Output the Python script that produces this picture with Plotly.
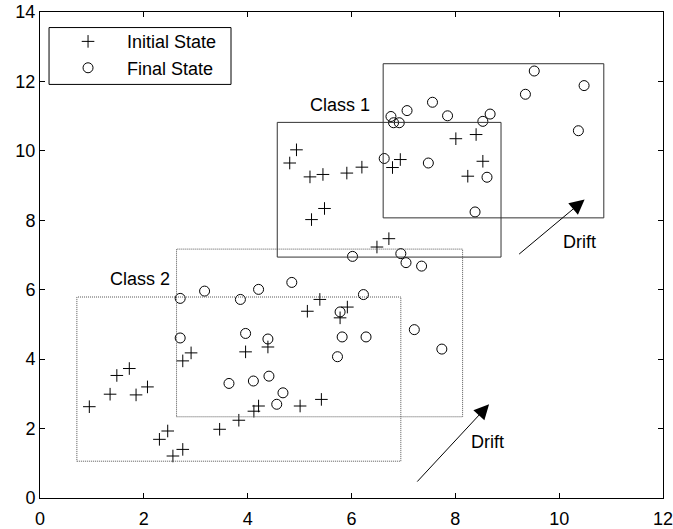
import plotly.graph_objects as go

# Initial State (+)
init_x = [0.95, 1.35, 1.48, 1.72, 1.85, 2.07, 2.30, 2.46, 2.56, 2.75, 2.75, 2.91,
          3.46, 3.83, 3.96, 4.12, 4.21, 4.39, 5.01, 5.42, 5.15, 5.39, 5.78, 5.92,
          4.81, 4.94, 5.20, 5.45, 5.91, 6.20, 5.23, 5.48, 6.49, 6.72, 6.79, 6.94,
          8.01, 8.40, 8.53, 8.24]
init_y = [2.63, 2.99, 3.53, 3.73, 2.97, 3.20, 1.69, 1.93, 1.21, 1.40, 3.95, 4.18,
          1.98, 2.24, 4.21, 2.50, 2.65, 4.35, 2.65, 2.84, 5.38, 5.72, 5.19, 5.50,
          9.65, 10.03, 9.25, 9.32, 9.36, 9.53, 8.02, 8.34, 7.23, 7.47, 9.52, 9.75,
          10.35, 10.47, 9.70, 9.27]

# Final State (o)
final_x = [2.70, 3.17, 3.86, 4.21, 4.85, 2.70, 3.96, 4.39, 3.64, 4.11, 4.41, 4.68,
           4.56, 5.78, 5.82, 5.73, 6.02, 6.23, 6.28, 7.21, 7.74, 6.95, 7.05, 7.35,
           9.52, 10.48, 9.35, 10.37, 7.56, 7.07, 6.76, 6.81, 6.92, 7.85, 8.67, 8.53,
           6.63, 7.48, 8.61, 8.38]
final_y = [5.75, 5.96, 5.72, 6.01, 6.21, 4.61, 4.74, 4.58, 3.30, 3.37, 3.51, 3.03,
           2.70, 5.36, 4.64, 4.07, 6.96, 5.86, 4.64, 4.85, 4.29, 7.04, 6.78, 6.68,
           12.30, 11.88, 11.63, 10.58, 11.40, 11.16, 10.99, 10.81, 10.81, 11.01, 11.06, 10.85,
           9.78, 9.65, 9.24, 8.24]

# Class regions: (x0, x1, y0, y1)
class2_initial_box = [0.71, 6.95, 1.06, 5.79]
class2_final_box = [2.63, 8.14, 2.34, 7.17]
class1_initial_box = [4.57, 8.88, 6.94, 10.82]
class1_final_box = [6.61, 10.86, 8.07, 12.51]

# Drift arrows: (tail_x, tail_y, head_x, head_y)
drift_upper = [9.20, 6.99, 10.49, 8.60]
drift_lower = [7.24, 0.43, 8.65, 2.70]

labels = [("Class 1", 5.77, 11.31), ("Class 2", 1.93, 6.32),
          ("Drift", 10.40, 7.38), ("Drift", 8.62, 1.62)]

x_ticks = [0, 2, 4, 6, 8, 10, 12]
y_ticks = [0, 2, 4, 6, 8, 10, 12, 14]

FONT = "Liberation Sans, Arial, sans-serif"
FS = 18

fig = go.Figure()
fig.add_trace(go.Scatter(
    x=init_x, y=init_y, mode="markers", name="Initial State",
    marker=dict(symbol="cross-thin-open", size=9, color="black",
                line=dict(color="black", width=1))))
fig.add_trace(go.Scatter(
    x=final_x, y=final_y, mode="markers", name="Final State",
    marker=dict(symbol="circle-open", size=10, color="black",
                line=dict(color="black", width=1))))

for box, style in [(class2_initial_box, "dot"), (class2_final_box, "dot"),
                   (class1_initial_box, "solid"), (class1_final_box, "solid")]:
    fig.add_shape(type="rect", xref="x", yref="y",
                  x0=box[0], x1=box[1], y0=box[2], y1=box[3],
                  line=dict(color="#555555" if style == "dot" else "#333333",
                            width=1, dash="1px,1px" if style == "dot" else "solid"))

# legend frame
fig.add_shape(type="rect", xref="paper", yref="paper",
              x0=0.0145, x1=0.3066, y0=0.851, y1=0.968,
              line=dict(color="black", width=1), fillcolor="white", layer="below")

for a in (drift_upper, drift_lower):
    fig.add_annotation(x=a[2], y=a[3], ax=a[0], ay=a[1], xref="x", yref="y",
                       axref="x", ayref="y", text="", showarrow=True,
                       arrowhead=2, arrowsize=3, arrowwidth=1, arrowcolor="black",
                       standoff=0)

for t, x, y in labels:
    fig.add_annotation(x=x, y=y, xref="x", yref="y", text=t, showarrow=False,
                       font=dict(family=FONT, size=FS, color="black"))

axis_common = dict(showline=True, linecolor="black", linewidth=1, mirror="ticks",
                   ticks="inside", ticklen=5, tickcolor="black", showgrid=False,
                   zeroline=False, automargin=False, ticklabeloverflow="allow",
                   tickfont=dict(family=FONT, size=FS, color="black"))
fig.update_xaxes(range=[0, 12], tickvals=x_ticks, ticklabelstandoff=4, **axis_common)
fig.update_yaxes(range=[0, 14], tickvals=y_ticks, **axis_common)

fig.update_layout(
    width=673, height=529,
    margin=dict(l=40, r=10, t=12, b=31),
    plot_bgcolor="white", paper_bgcolor="white",
    showlegend=True,
    legend=dict(x=0.0145, y=0.977, xanchor="left", yanchor="top",
                borderwidth=0, bgcolor="rgba(0,0,0,0)",
                font=dict(family=FONT, size=FS, color="black"),
                itemwidth=68, tracegroupgap=0),
)

fig.write_html("out.html")
